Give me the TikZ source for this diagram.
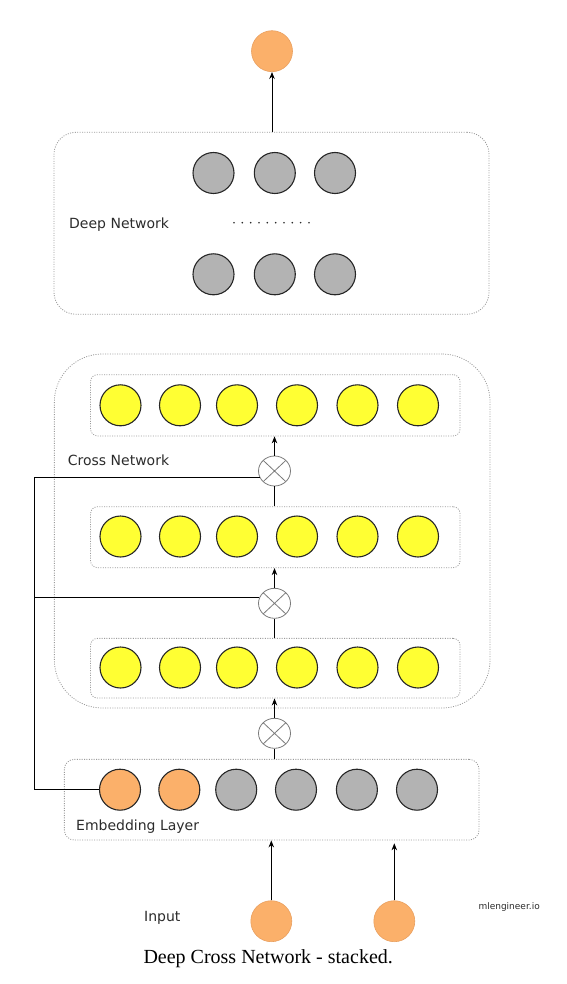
\documentclass[tikz,border=0pt]{standalone}
\usepackage{fontspec}
\setmainfont{Liberation Serif}
\newfontfamily\labelfont{DejaVu Sans}
\usetikzlibrary{arrows.meta,shapes.geometric}
\definecolor{orangefill}{HTML}{FBB06A}
\definecolor{orangeedge}{HTML}{E9A060}
\definecolor{grayfill}{HTML}{B3B3B3}
\definecolor{yellowfill}{HTML}{FFFF33}
\definecolor{edgedark}{HTML}{262626}
\definecolor{boxgray}{HTML}{9A9A9A}
\definecolor{crossgray}{HTML}{7A7A7A}
\definecolor{textdark}{HTML}{2B2B2B}
\begin{document}
\begin{tikzpicture}[x=1pt,y=-1pt,
  neuron/.style={circle, minimum size=41pt, inner sep=0pt, draw=edgedark, line width=1.1pt},
  yneuron/.style={neuron, fill=yellowfill},
  gneuron/.style={neuron, fill=grayfill},
  oneuron/.style={neuron, fill=orangefill},
  ioneuron/.style={circle, minimum size=41pt, inner sep=0pt, fill=orangefill, draw=orangeedge, line width=0.6pt},
  dbox/.style={draw=boxgray, dash pattern=on 1pt off 1.4pt, line width=0.8pt, inner sep=0pt},
  crossop/.style={ellipse, minimum width=32pt, minimum height=30pt, inner sep=0pt, draw=crossgray, fill=white, line width=0.8pt,
    path picture={\draw[crossgray, line width=0.8pt] (path picture bounding box.north west) -- (path picture bounding box.south east)
      (path picture bounding box.north east) -- (path picture bounding box.south west);}},
  conn/.style={draw=black, line width=0.9pt},
  arr/.style={conn, -{Stealth[length=7pt,width=5.5pt]}},
  lbl/.style={font=\labelfont\fontsize{14}{16}\selectfont, text=textdark, inner sep=0pt, anchor=base west}
]
\useasboundingbox (0,0) rectangle (566,984);

% Deep network
\node[dbox, rounded corners=22pt, minimum width=435pt, minimum height=182pt] (deep) at (271.5,223.3) {};
\node[ioneuron] (out) at (272,51.2) {};
\draw[arr] (out.south |- deep.north) -- (out.south);
\foreach \x [count=\i] in {213.5,274.8,335} {
  \node[gneuron] (dt\i) at (\x,173) {};
  \node[gneuron] (db\i) at (\x,274.3) {};
}
\foreach \k in {0,...,9} \fill[textdark] (234+\k*8.33,222.7) circle (0.9pt);
\node[lbl] (deeplbl) at (69,228.3) {Deep Network};

% Cross network
\node[dbox, rounded corners=48pt, minimum width=435.7pt, minimum height=354pt] (cross) at (272.2,531) {};
\node[dbox, rounded corners=7pt, minimum width=369.5pt, minimum height=61.3pt] (l1) at (275.3,405.3) {};
\node[dbox, rounded corners=7pt, minimum width=369.5pt, minimum height=61pt] (l2) at (275.3,537.2) {};
\node[dbox, rounded corners=7pt, minimum width=369.5pt, minimum height=59.7pt] (l3) at (275.3,668.2) {};
\foreach \x [count=\i] in {120.5,180,237,297,357.5,418} {
  \node[yneuron] (ya\i) at (\x,405.3) {};
  \node[yneuron] (yb\i) at (\x,536.5) {};
  \node[yneuron] (yc\i) at (\x,667.5) {};
}
\node[lbl] (crosslbl) at (67.7,465.7) {Cross Network};

% Embedding layer
\node[dbox, rounded corners=10pt, minimum width=414.7pt, minimum height=80.7pt] (emb) at (271.7,799.7) {};
\node[oneuron] (e1) at (120,789.7) {};
\node[oneuron] (e2) at (179.3,789.7) {};
\node[gneuron] (e3) at (236.2,789.7) {};
\node[gneuron] (e4) at (296,789.7) {};
\node[gneuron] (e5) at (356.9,789.7) {};
\node[gneuron] (e6) at (417,789.7) {};
\node[lbl] (emblbl) at (76,830.7) {Embedding Layer};

% Cross operations
\node[crossop] (c1) at (274.5,471) {};
\node[crossop] (c2) at (274.5,603.3) {};
\node[crossop] (c3) at (274.5,733.3) {};
\draw[conn] (c1.south) -- (c1.south |- l2.north);
\draw[arr] (c1.north) -- (c1.north |- l1.south);
\draw[conn] (c2.south) -- (c2.south |- l3.north);
\draw[arr] (c2.north) -- (c2.north |- l2.south);
\draw[conn] (c3.south) -- (c3.south |- emb.north);
\draw[arr] (c3.north) -- (c3.north |- l3.south);

% x0 feed line
\coordinate (lx) at (34.5,0);
\draw[conn] (e1.west) -- (e1.west -| lx) -- (lx |- c1.204) -- (c1.204);
\draw[conn] (c2.158) -- (c2.158 -| lx);

% Inputs
\node[ioneuron] (in1) at (271.3,921.2) {};
\node[ioneuron] (in2) at (394.3,921.2) {};
\coordinate (in2tip) at (394.3,843.3);
\draw[arr] (in1.north) -- (in1.north |- emb.south);
\draw[arr] (in2.north) -- (in2tip);
\node[lbl] (inlbl) at (144,921.7) {Input};
\node[lbl, font=\labelfont\fontsize{9}{11}\selectfont] (brand) at (478.3,909.3) {mlengineer.io};

% Caption
\node[inner sep=0pt, anchor=base west, font=\fontsize{20}{24}\selectfont] (caption) at (143.3,963.3) {Deep Cross Network - stacked.};
\end{tikzpicture}
\end{document}
